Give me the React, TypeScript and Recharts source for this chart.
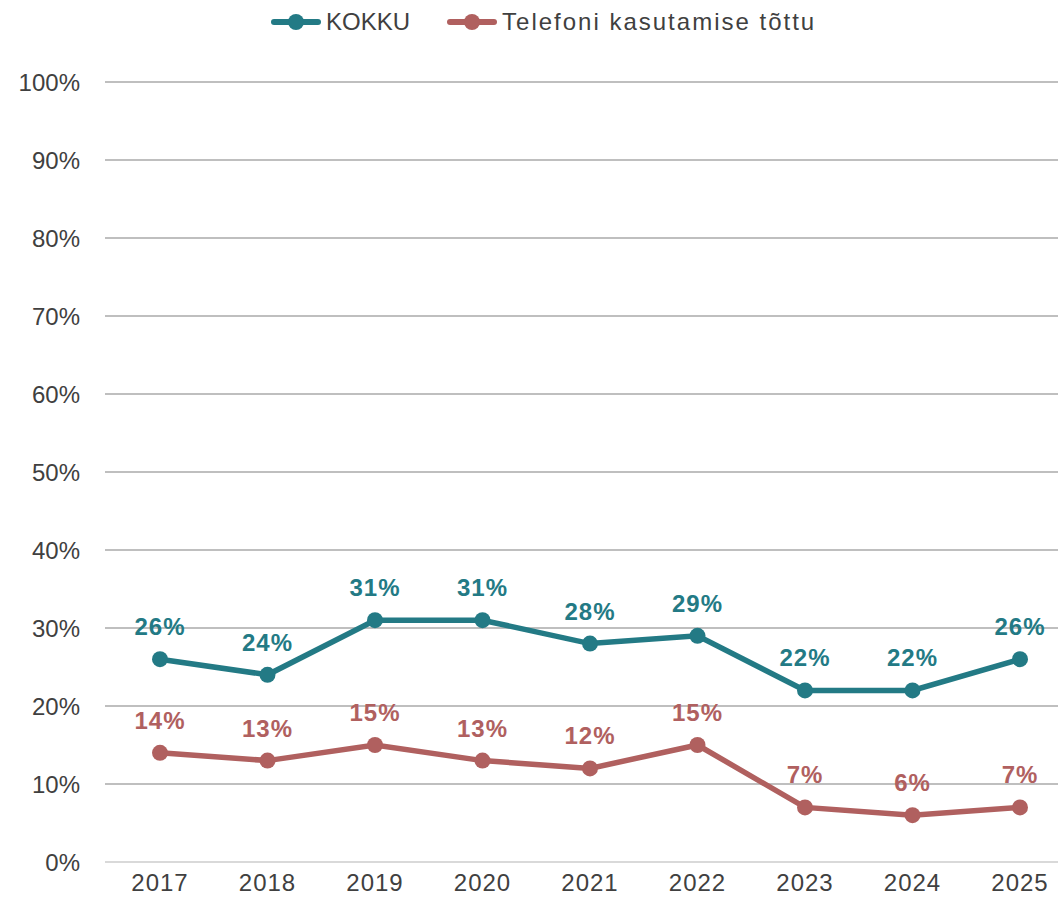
import React from 'react';
import {
  LineChart,
  Line,
  XAxis,
  YAxis,
  CartesianGrid,
  LabelList,
} from 'recharts';

// 데이터
const years = ['2017', '2018', '2019', '2020', '2021', '2022', '2023', '2024', '2025'];
const kokku = [26, 24, 31, 31, 28, 29, 22, 22, 26];
const telefon = [14, 13, 15, 13, 12, 15, 7, 6, 7];
const yTicks = [0, 10, 20, 30, 40, 50, 60, 70, 80, 90, 100];

const SERIES = [
  { key: 'kokku', name: 'KOKKU', color: '#237A85', spacing: 0 },
  { key: 'telefon', name: 'Telefoni kasutamise tõttu', color: '#B0605F', spacing: 2 },
];

const FONT = "Arial, 'Liberation Sans', sans-serif";

const chartData = years.map((year, i) => ({
  year,
  kokku: kokku[i],
  telefon: telefon[i],
}));

// 상단 범례
function TopLegend() {
  return (
    <div
      style={{
        position: 'absolute',
        top: 6,
        left: 271,
        display: 'flex',
        gap: 37,
        fontFamily: FONT,
        fontSize: 24,
        color: '#404040',
      }}
    >
      {SERIES.map((s) => (
        <div key={s.key} style={{ display: 'flex', alignItems: 'center', gap: 5 }}>
          <svg width={50} height={32}>
            <line x1={3} y1={16} x2={47} y2={16} stroke={s.color} strokeWidth={6} strokeLinecap="round" />
            <circle cx={25} cy={16} r={8} fill={s.color} />
          </svg>
          <span style={{ letterSpacing: s.spacing }}>{s.name}</span>
        </div>
      ))}
    </div>
  );
}

export default function App() {
  return (
    <div style={{ position: 'absolute', left: 0, top: 0, width: 1058, height: 906, overflow: 'hidden', background: '#fff' }}>
      <TopLegend />
      <LineChart
        width={1058}
        height={906}
        data={chartData}
        margin={{ top: 82, right: 0, bottom: 14, left: 0 }}
      >
        <CartesianGrid vertical={false} stroke="#BFBFBF" strokeWidth={2} />
        <XAxis
          dataKey="year"
          height={30}
          padding={{ left: 55, right: 38 }}
          tickLine={false}
          tickSize={0}
          tickMargin={12}
          axisLine={{ stroke: '#D9D9D9', strokeWidth: 2 }}
          tick={{ fill: '#404040', fontSize: 24, fontFamily: FONT, letterSpacing: 1 }}
          interval={0}
        />
        <YAxis
          width={105}
          domain={[0, 100]}
          ticks={yTicks}
          tickFormatter={(v: number) => `${v}%`}
          axisLine={false}
          tickLine={false}
          tickSize={0}
          tickMargin={25}
          tick={{ fill: '#404040', fontSize: 24, fontFamily: FONT }}
        />
        {SERIES.map((s) => (
          <Line
            key={s.key}
            dataKey={s.key}
            name={s.name}
            stroke={s.color}
            strokeWidth={5.5}
            dot={{ r: 8, fill: s.color, stroke: s.color, strokeWidth: 0 }}
            activeDot={false}
            isAnimationActive={false}
          >
            <LabelList
              dataKey={s.key}
              position="top"
              offset={24}
              formatter={(v: any) => `${v}%`}
              fill={s.color}
              style={{ fontSize: 24, fontWeight: 'bold', fontFamily: FONT, letterSpacing: 1 }}
            />
          </Line>
        ))}
      </LineChart>
    </div>
  );
}
